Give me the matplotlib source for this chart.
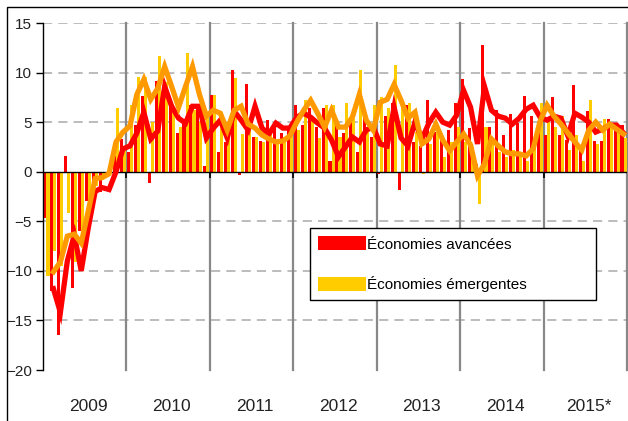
import numpy as np
import matplotlib
matplotlib.use("Agg")
import matplotlib.pyplot as plt
from matplotlib.patches import Patch, Rectangle
from matplotlib.transforms import blended_transform_factory

# ── Donnees (variation annuelle, %, mensuel 2009-2015) ──────────────────────
years = ["2009", "2010", "2011", "2012", "2013", "2014", "2015*"]

adv_bars = [
    -4.7, -12.0, -16.5, 1.6, -11.7, -6.0, -3.0, -1.4, -2.0, -0.5, 1.6, 3.3,
    2.0, 4.7, 7.6, -1.1, 9.2, 8.0, 6.7, 3.9, 4.9, 6.7, 6.7, 0.6,
    7.7, 2.0, 3.0, 10.3, -0.3, 8.8, 3.5, 3.1, 5.2, 4.5, 3.9, 4.5,
    6.7, 4.7, 6.4, 4.5, 6.4, 1.1, 5.0, 3.9, 5.5, 2.0, 5.5, 3.5,
    -0.2, 5.6, 6.9, -1.8, 6.7, 3.0, 2.6, 7.2, 4.0, 3.5, 4.2, 6.9,
    9.4, 4.4, 0.8, 12.8, 4.5, 6.2, 3.7, 5.8, 4.9, 7.6, 5.6, 5.0,
    3.7, 7.5, 3.7, 3.2, 8.7, 2.1, 6.1, 3.1, 3.1, 5.3, 4.9, 4.7,
]
em_bars = [
    -10.5, -8.0, -9.5, -4.2, -9.1, -7.0, -3.5, -1.4, -0.6, 1.0, 6.4, 2.5,
    6.7, 9.6, 9.6, 5.0, 11.7, 9.0, 6.0, 4.5, 12.0, 6.2, 5.0, 5.4,
    7.7, 5.5, 4.0, 9.5, 3.8, 4.5, 3.5, 3.0, 4.0, 3.2, 3.5, 4.0,
    4.2, 7.2, 5.5, 3.4, 6.7, 6.7, 3.5, 6.9, 5.3, 10.3, 4.5, 6.7,
    7.5, 6.4, 10.8, 6.8, 6.9, 4.0, -0.2, 2.8, 4.0, 1.5, 3.0, 4.5,
    3.0, 2.5, -3.3, 4.5, 3.0, 2.0, 1.5, 2.2, 1.8, 1.1, 2.5, 6.9,
    5.0, 4.5, 5.6, 2.2, 3.7, 1.1, 7.2, 2.8, 5.3, 4.7, 4.5, 3.4,
]
adv_line = [
    np.nan, -11.8, -14.2, -9.0, -6.4, -10.0, -5.7, -2.0, -1.6, -1.8, 0.0, 2.3,
    2.6, 3.9, 6.0, 3.3, 4.1, 8.6, 6.6, 5.4, 4.9, 6.6, 6.6, 3.4,
    4.4, 5.2, 3.4, 6.1, 5.2, 4.2, 6.6, 4.4, 3.8, 4.9, 4.4, 4.4,
    5.5, 5.9, 5.5, 4.9, 4.4, 3.2, 1.5, 2.5, 3.5, 3.0, 4.2, 4.5,
    2.8, 2.6, 6.5, 3.4, 2.6, 5.0, 3.3, 4.9, 6.0, 5.0, 4.7, 5.7,
    8.2, 6.5, 2.8, 8.6, 6.2, 5.6, 5.4, 4.8, 5.4, 6.3, 6.7, 5.5,
    5.2, 5.6, 5.4, 3.6, 5.9, 5.5, 5.0, 4.0, 4.3, 4.7, 4.7, 3.9,
]
em_line = [
    np.nan, -10.1, -9.1, -6.5, -6.3, -7.2, -4.0, -0.7, -0.6, -0.2, 3.0, 4.0,
    4.6, 7.8, 9.3, 7.3, 8.4, 10.6, 8.6, 6.5, 8.6, 10.6, 7.8, 5.6,
    6.2, 5.9, 4.2, 6.2, 6.6, 4.8, 4.4, 3.7, 3.3, 3.0, 3.1, 3.6,
    5.0, 6.2, 7.2, 5.9, 4.5, 6.2, 4.5, 4.5, 5.5, 7.8, 5.2, 4.2,
    7.0, 7.3, 8.8, 7.2, 5.4, 6.0, 2.8, 3.3, 4.8, 3.2, 2.1, 3.0,
    3.8, 2.7, -0.4, 0.8, 3.3, 2.6, 2.0, 1.8, 1.8, 1.6, 2.3, 5.1,
    6.7, 5.6, 4.8, 3.9, 3.0, 2.2, 4.2, 5.0, 4.2, 4.8, 4.3, 3.8,
]

RED, YELLOW, ORANGE = "#FF0000", "#FFCC00", "#FF9900"
plt.rcParams["font.family"] = ["Liberation Sans", "DejaVu Sans"]

n = len(adv_bars)
x = np.arange(n) + 0.5
w = 0.44

fig = plt.figure(figsize=(6.28, 4.21), dpi=100)
ax = fig.add_axes([43 / 628, 1 - 370 / 421, 584 / 628, 347 / 421])

# cadre exterieur de la figure
fig.patches.append(Rectangle((7 / 628, -0.05), 1.2, 1 - 7 / 421 + 0.05,
                             transform=fig.transFigure, fill=False,
                             edgecolor="black", linewidth=1.0))

# ── Grille ──────────────────────────────────────────────────────────────────
for v in [15, 10, 5, -5, -10, -15]:
    ax.axhline(v, color="#AAAAAA", linestyle=(0, (6, 4)), linewidth=1.1, zorder=0)
for k in range(1, len(years) + 1):
    ax.axvline(12 * k, color="#888888", linewidth=1.6, zorder=0, clip_on=False)

# ── Barres + lignes ─────────────────────────────────────────────────────────
ax.bar(x - w / 2, adv_bars, width=w, color=RED, zorder=2, linewidth=0)
ax.bar(x + w / 2, em_bars, width=w, color=YELLOW, zorder=2, linewidth=0)
ax.axhline(0, color="black", linewidth=1.0, zorder=3)
ax.plot(x, adv_line, color=RED, linewidth=3.8, zorder=4, solid_joinstyle="miter")
ax.plot(x, em_line, color=ORANGE, linewidth=3.8, zorder=5, solid_joinstyle="miter")

ax.set_xlim(0, n)
ax.set_ylim(-20, 15)
ax.set_yticks([15, 10, 5, 0, -5, -10, -15, -20])
ax.tick_params(axis="y", direction="out", length=5, width=1, colors="black",
               labelsize=11, labelcolor="#222222", pad=3)
for s in ["top", "right"]:
    ax.spines[s].set_visible(False)
ax.spines["left"].set_linewidth(1.0)
ax.spines["bottom"].set_position(("data", 0))
ax.spines["bottom"].set_visible(False)
ax.set_xticks([12 * k for k in range(1, len(years))])
ax.tick_params(axis="x", direction="out", length=4, width=1.2, colors="black",
               labelbottom=False)

# etiquettes des annees
trans = blended_transform_factory(ax.transData, ax.transAxes)
for k, yr in enumerate(years):
    ax.annotate(yr, xy=(12 * k + 6, -0.105), xycoords=trans, xytext=(2.5, 0),
                textcoords="offset points", ha="center", va="center",
                fontsize=12.5, color="#222222", annotation_clip=False)

# ── Legende ─────────────────────────────────────────────────────────────────
handles = [Patch(facecolor=RED, edgecolor="none", label="Économies avancées"),
           Patch(facecolor=YELLOW, edgecolor="none", label="Économies émergentes")]
leg = ax.legend(handles=handles, loc="upper left",
                bbox_to_anchor=(0.457, 0.182, 0.49, 0.227), mode="expand",
                fontsize=11, handlelength=3.1, handleheight=1.0,
                handletextpad=0.1, labelspacing=1.6, borderpad=0.55,
                borderaxespad=0, fancybox=False, framealpha=1,
                edgecolor="black")
leg.get_frame().set_linewidth(1.0)

plt.savefig("out.png", dpi=100)
plt.close()
